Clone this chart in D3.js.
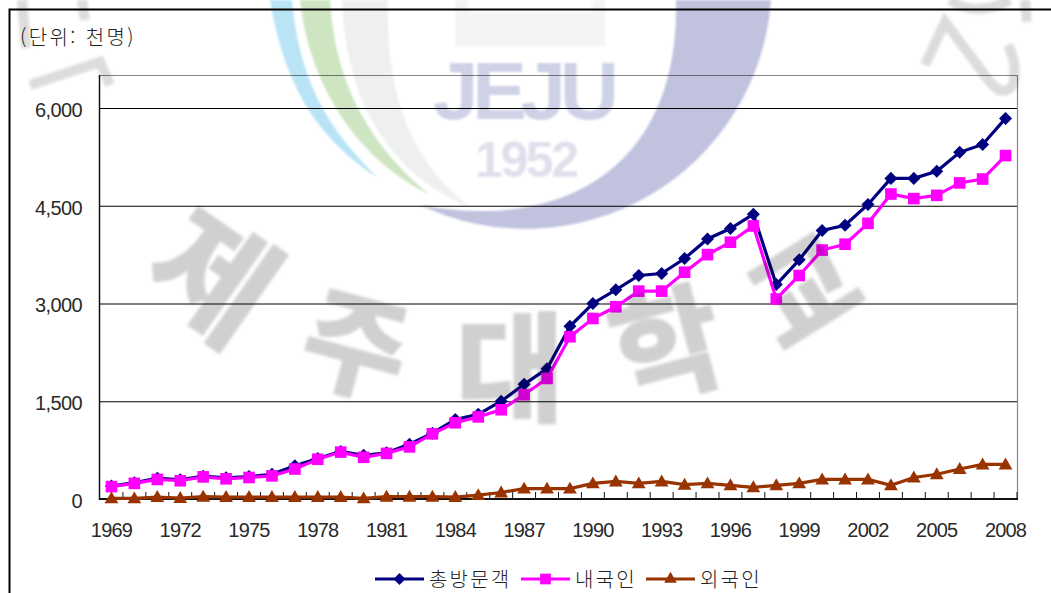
<!DOCTYPE html>
<html lang="ko">
<head>
<meta charset="utf-8">
<script src="https://cdn.jsdelivr.net/npm/d3@7"></script>
<style>
  html, body { margin: 0; padding: 0; background: #fff; overflow: hidden; }
  text { font-family: "Liberation Sans", sans-serif; fill: #222; }
  .kr { font-family: "Noto Sans CJK KR", sans-serif; font-weight: 300; }
</style>
</head>
<body>
<div id="vis"></div>
<script>
const years = d3.range(1969, 2009);
const yTicks = [0, 1500, 3000, 4500, 6000];
const totalVisitors = [200, 250, 320, 295, 350, 325, 345, 380, 510, 620, 730, 670, 710, 840, 1010, 1220, 1300, 1500, 1760, 2000,
  2650, 3000, 3210, 3430, 3460, 3690, 3990, 4150, 4370, 3290, 3670, 4120, 4200, 4520, 4920, 4920, 5030, 5320, 5440, 5840];
const domestic = [190, 240, 300, 280, 340, 310, 330, 355, 460, 610, 720, 640, 700, 800, 1000, 1170, 1260, 1370, 1600, 1850,
  2490, 2770, 2950, 3190, 3190, 3480, 3750, 3940, 4190, 3070, 3430, 3820, 3910, 4230, 4680, 4610, 4660, 4850, 4910, 5270];
const foreign = [10, 10, 30, 15, 35, 30, 30, 30, 30, 30, 30, 10, 35, 35, 35, 30, 60, 100, 160, 160,
  160, 240, 270, 240, 270, 220, 240, 210, 180, 210, 240, 300, 300, 300, 210, 330, 380, 460, 530, 530];
const seriesNames = ["총방문객", "내국인", "외국인"];
const unitLabel = "(단위: 천명)";

// the diamond is a turned square, d3.symbolDiamond is too narrow
const series = [
  { name: seriesNames[0], values: totalVisitors, color: "#000080", symbol: d3.symbolSquare, size: 85, turn: 45, dy: 0, legendX: 375 },
  { name: seriesNames[1], values: domestic, color: "#ff00ff", symbol: d3.symbolSquare, size: 135, turn: 0, dy: 0, legendX: 521 },
  { name: seriesNames[2], values: foreign, color: "#993300", symbol: d3.symbolTriangle, size: 82, turn: 0, dy: 1, legendX: 646 }
];

const svg = d3.select("#vis").append("svg")
  .attr("width", 1051)
  .attr("height", 593);

const plot = { left: 100, right: 1017, top: 75, bottom: 499 };

const x = d3.scaleBand().domain(years).range([plot.left, plot.right]);
const y = d3.scaleLinear().domain([0, 6000]).range([plot.bottom, 108]);

// outer frame
svg.append("path")
  .attr("d", "M9.5,593V9.5H1051")
  .attr("fill", "none")
  .attr("stroke", "#000")
  .attr("stroke-width", 2);

svg.append("text")
  .attr("class", "kr")
  .attr("x", 20)
  .attr("y", 45)
  .attr("font-size", "20px")
  .attr("letter-spacing", "2.4px")
  .text(unitLabel);

// grid
svg.append("g").selectAll("line")
  .data(yTicks.slice(1))
  .enter()
  .append("line")
  .attr("x1", plot.left)
  .attr("x2", plot.right)
  .attr("y1", d => y(d) + 0.5)
  .attr("y2", d => y(d) + 0.5)
  .attr("stroke", "#000")
  .attr("stroke-width", 1);

// plot box, gray on top and right
svg.append("path")
  .attr("d", `M${plot.left},${plot.top + 0.5}H${plot.right + 0.5}V${plot.bottom}`)
  .attr("fill", "none")
  .attr("stroke", "#868686")
  .attr("stroke-width", 1.2);
svg.append("line")
  .attr("x1", plot.left - 0.5).attr("x2", plot.left - 0.5)
  .attr("y1", plot.top).attr("y2", plot.bottom + 1)
  .attr("stroke", "#111").attr("stroke-width", 1.5);

// y axis
const yAxis = svg.append("g")
  .attr("transform", `translate(82, 0)`)
  .call(d3.axisLeft(y).tickValues(yTicks).tickSize(0).tickFormat(d3.format(",")));
yAxis.select(".domain").remove();
yAxis.selectAll("text")
  .attr("font-size", "20px")
  .attr("letter-spacing", "-0.6px")
  .attr("font-family", "Liberation Sans")
  .attr("dy", "0.42em")
  .attr("x", 0)
  .style("fill", "#2a2a2a");

// x axis, every third year
const xAxis = svg.append("g")
  .attr("transform", `translate(0, ${plot.bottom})`)
  .call(d3.axisBottom(x).tickValues(years.filter((d, i) => i % 3 === 0 || d === 2008)).tickSize(0));
xAxis.select(".domain").remove();
xAxis.selectAll("text")
  .attr("font-size", "20px")
  .attr("letter-spacing", "-0.8px")
  .attr("font-family", "Liberation Sans")
  .attr("y", 24)
  .attr("dy", "0.71em")
  .style("fill", "#2a2a2a");

// inward ticks between the years
svg.append("g").selectAll("line")
  .data(years.slice(1).concat("end"))
  .enter()
  .append("line")
  .attr("x1", d => d === "end" ? plot.right : x(d))
  .attr("x2", d => d === "end" ? plot.right : x(d))
  .attr("y1", plot.bottom - 7)
  .attr("y2", plot.bottom)
  .attr("stroke", "#111")
  .attr("stroke-width", 1);
svg.append("line")
  .attr("x1", plot.left - 1).attr("x2", plot.right + 1)
  .attr("y1", plot.bottom).attr("y2", plot.bottom)
  .attr("stroke", "#111").attr("stroke-width", 2);

// lines and markers
const cx = d => x(d) + x.bandwidth() / 2;
const line = d3.line().x((d, i) => cx(years[i])).y(d => y(d));

series.forEach(s => {
  svg.append("path")
    .attr("d", line(s.values))
    .attr("fill", "none")
    .attr("stroke", s.color)
    .attr("stroke-width", 3.2);

  svg.append("g").selectAll("path")
    .data(s.values)
    .enter()
    .append("path")
    .attr("d", d3.symbol().type(s.symbol).size(s.size))
    .attr("transform", (d, i) => `translate(${cx(years[i])}, ${y(d) + s.dy}) rotate(${s.turn})`)
    .attr("fill", s.color);
});

// legend
series.forEach(s => {
  const row = svg.append("g").attr("transform", `translate(${s.legendX}, 579)`);
  row.append("line")
    .attr("x1", 0).attr("x2", 49)
    .attr("stroke", s.color)
    .attr("stroke-width", 3.2);
  row.append("path")
    .attr("d", d3.symbol().type(s.symbol).size(s.size * 0.85))
    .attr("transform", `translate(24.5, 0) rotate(${s.turn})`)
    .attr("fill", s.color);
  row.append("text")
    .attr("class", "kr")
    .attr("x", 54)
    .attr("y", 8)
    .attr("font-size", "20px")
    .attr("letter-spacing", "2.2px")
    .text(s.name);
});

// watermark, multiplied over the chart like the scanned page
const defs = svg.append("defs");
defs.append("filter").attr("id", "soft").append("feGaussianBlur").attr("stdDeviation", 1.8);
defs.append("filter").attr("id", "softer").append("feGaussianBlur").attr("stdDeviation", 1.1);

const wm = svg.append("g").style("mix-blend-mode", "multiply");
const logo = wm.append("g").attr("filter", "url(#softer)");

logo.append("path")
  .attr("d", "M342,0C345,100 390,175 470,207C415,165 385,100 388,0Z")
  .attr("fill", "#eeefef");
logo.append("path")
  .attr("d", "M270,0C285,90 320,140 378,178C335,135 300,90 292,0Z")
  .attr("fill", "#b9e4f5");
logo.append("path")
  .attr("d", "M300,0C310,90 360,160 430,195C375,150 335,90 330,0Z")
  .attr("fill", "#cde5c1");
logo.append("path")
  .attr("d", "M771,0A246,246 0 0 1 420,205C560,232 680,170 676,0Z")
  .attr("fill", "#c0c2de");
logo.append("rect")
  .attr("x", 455).attr("y", 0).attr("width", 150).attr("height", 46)
  .attr("fill", "#f3f4f4");
logo.append("rect")
  .attr("x", 468).attr("y", 0).attr("width", 124).attr("height", 12)
  .attr("fill", "#fff");
logo.append("text")
  .attr("x", 526).attr("y", 119)
  .attr("text-anchor", "middle")
  .attr("font-size", "82px")
  .attr("font-weight", "bold")
  .attr("textLength", 186)
  .style("font-family", "Liberation Sans")
  .style("fill", "#cfd1e6")
  .text("JEJU");
logo.append("text")
  .attr("x", 527).attr("y", 177)
  .attr("text-anchor", "middle")
  .attr("font-size", "50px")
  .attr("font-weight", "bold")
  .attr("textLength", 104)
  .style("font-family", "Liberation Sans")
  .style("fill", "#dfe0ec")
  .text("1952");

const stampChars = [
  { c: "제", px: 218, py: 270, r: 35, s: 128 },
  { c: "주", px: 358, py: 338, r: 15, s: 112 },
  { c: "대", px: 510, py: 360, r: 0, s: 118 },
  { c: "학", px: 665, py: 338, r: -15, s: 118 },
  { c: "교", px: 800, py: 285, r: -32, s: 112 }
];
const stamp = wm.append("g").attr("filter", "url(#soft)");
stamp.selectAll("text")
  .data(stampChars)
  .enter()
  .append("text")
  .attr("transform", d => `translate(${d.px}, ${d.py}) rotate(${d.r})`)
  .attr("text-anchor", "middle")
  .attr("dominant-baseline", "central")
  .attr("font-size", d => d.s + "px")
  .attr("font-weight", 700)
  .style("font-family", "Noto Sans CJK KR")
  .style("fill", "#d0d0d0")
  .style("stroke", "#d0d0d0")
  .style("stroke-width", 3)
  .text(d => d.c);

// cut off stamp pieces in the top corners
stamp.append("path")
  .attr("d", "M30,85L100,62L110,85M22,0L26,48M82,0L85,20M925,65L945,22L990,82Q1003,98 1013,85Q1018,65 1008,45M950,0Q975,18 1010,0M1025,0L1027,22")
  .attr("fill", "none")
  .attr("stroke", "#dcdcdc")
  .attr("stroke-width", 10);
</script>
</body>
</html>
